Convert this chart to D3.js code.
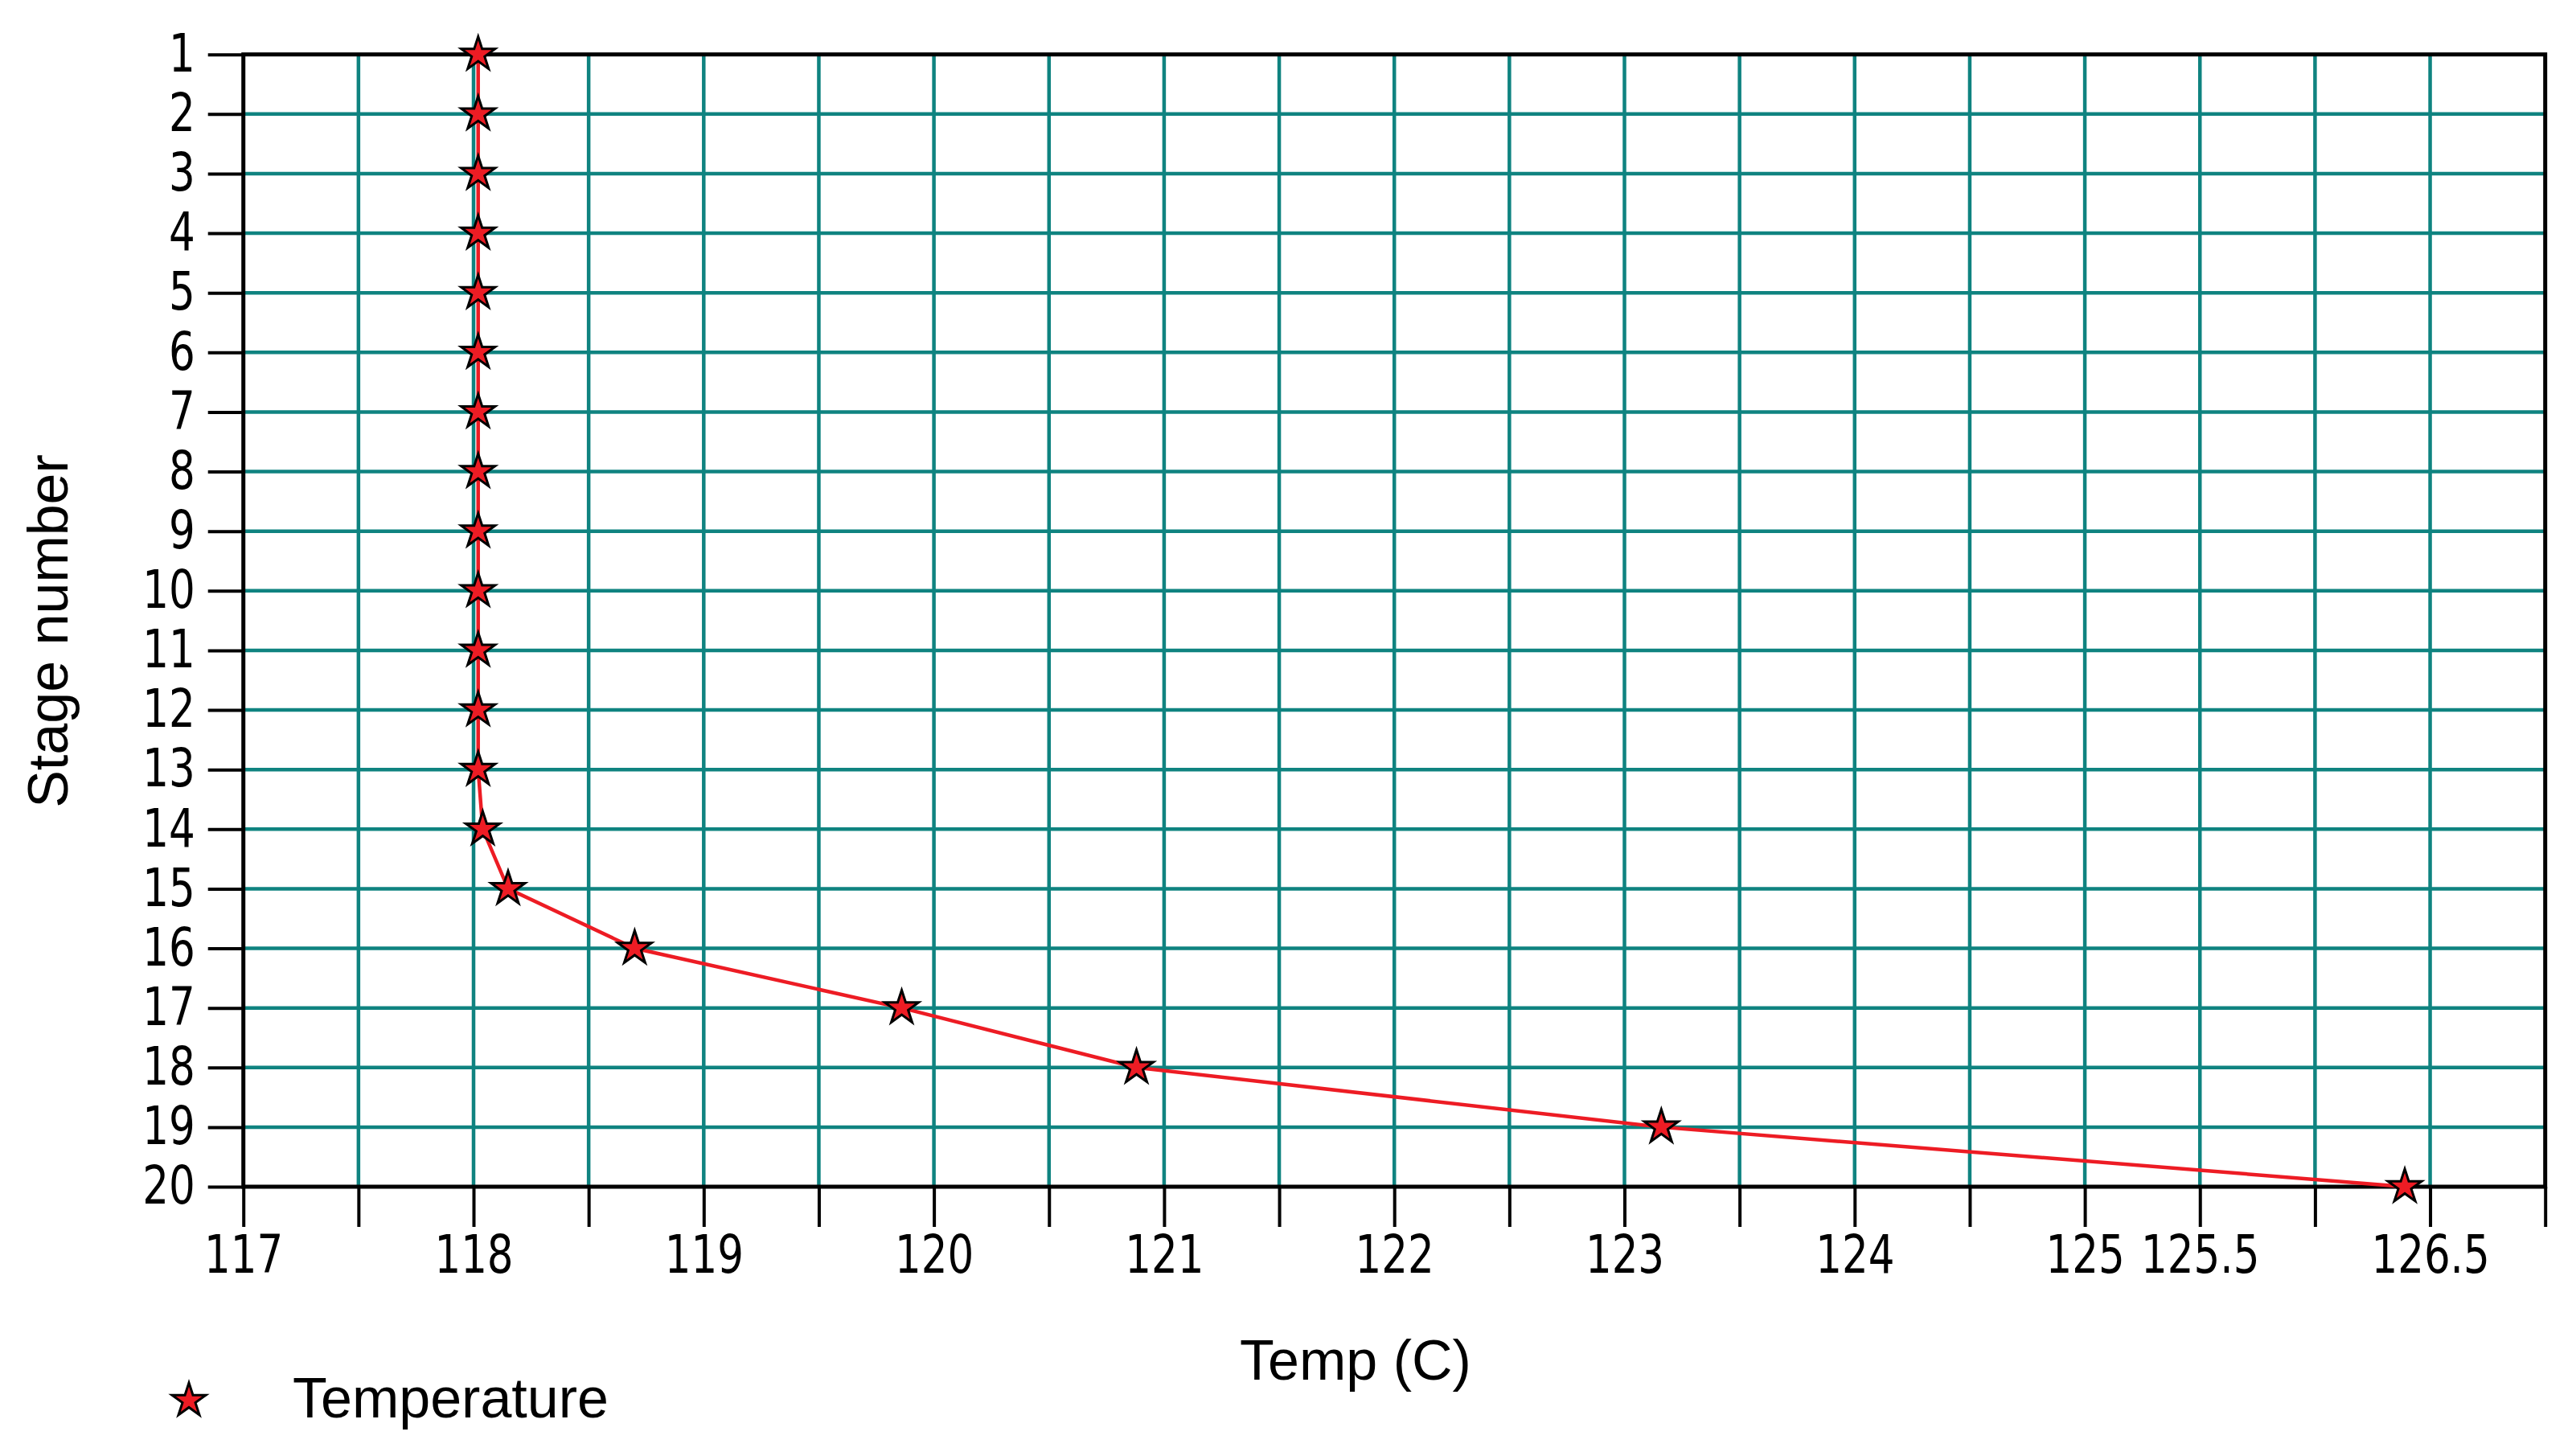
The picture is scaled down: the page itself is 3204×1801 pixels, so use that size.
<!DOCTYPE html>
<html>
<head>
<meta charset="utf-8">
<script src="https://cdn.jsdelivr.net/npm/d3@7"></script>
<style>
  body { margin: 0; background: #fff; }
  .tick text { font-family: "Liberation Sans Narrow", "Arial Narrow", "DejaVu Sans Condensed", sans-serif; font-stretch: condensed; }
  .title { font-family: "Liberation Sans", Arial, sans-serif; fill: #000; }
</style>
</head>
<body>
<svg width="3204" height="1801"></svg>
<script>
// stage numbers and temperature profile
const stages = [1, 2, 3, 4, 5, 6, 7, 8, 9, 10, 11, 12, 13, 14, 15, 16, 17, 18, 19, 20];
const temps = [118.02, 118.02, 118.02, 118.02, 118.02, 118.02, 118.02, 118.02, 118.02, 118.02,
               118.02, 118.02, 118.02, 118.04, 118.15, 118.70, 119.86, 120.88, 123.16, 126.39];

// x ticks every 0.5, but only some of them carry a label
const xTicks = d3.range(117, 127.01, 0.5);
const xTickLabels = [117, 118, 119, 120, 121, 122, 123, 124, 125, 125.5, 126.5];

const gridColor = "#0f8380";
const lineColor = "#ed1c24";

const svg = d3.select("svg");
const plotLeft = 302.7, plotRight = 3165.7, plotTop = 67.7, plotBottom = 1476;
const squeeze = 0.88; // tick labels are a narrow font

const x = d3.scaleLinear().domain([117, 127]).range([plotLeft, plotRight]);
const y = d3.scaleLinear().domain([1, 20]).range([plotTop, plotBottom]);

// grid
svg.append("g")
  .selectAll("line")
  .data(xTicks.slice(1, -1))
  .enter().append("line")
    .attr("x1", d => x(d)).attr("x2", d => x(d))
    .attr("y1", plotTop).attr("y2", plotBottom)
    .attr("stroke", gridColor)
    .attr("stroke-width", 4.5);

svg.append("g")
  .selectAll("line")
  .data(stages.slice(1, -1))
  .enter().append("line")
    .attr("x1", plotLeft).attr("x2", plotRight)
    .attr("y1", d => y(d)).attr("y2", d => y(d))
    .attr("stroke", gridColor)
    .attr("stroke-width", 4.5);

// axes
const xAxis = svg.append("g")
  .attr("transform", `translate(0,${plotBottom})`)
  .call(d3.axisBottom(x)
    .tickValues(xTicks)
    .tickSize(50)
    .tickPadding(11)
    .tickFormat(d => xTickLabels.some(v => Math.abs(v - d) < 1e-9) ? d : ""));

const yAxis = svg.append("g")
  .attr("transform", `translate(${plotLeft},0)`)
  .call(d3.axisLeft(y)
    .tickValues(stages)
    .tickSize(44)
    .tickPadding(16)
    .tickFormat(d3.format("d")));

[xAxis, yAxis].forEach(a => {
  a.select(".domain").remove();
  a.selectAll(".tick line").attr("stroke", "#000").attr("stroke-width", 4);
  a.selectAll(".tick text")
    .attr("fill", "#000")
    .attr("font-size", 65)
    .attr("transform", `scale(${squeeze},1)`);
});
yAxis.selectAll(".tick text").attr("x", -60 / squeeze);

// frame
svg.append("rect")
  .attr("x", plotLeft).attr("y", plotTop)
  .attr("width", plotRight - plotLeft).attr("height", plotBottom - plotTop)
  .attr("fill", "none")
  .attr("stroke", "#000")
  .attr("stroke-width", 5);

// temperature line
const line = d3.line()
  .x((d, i) => x(temps[i]))
  .y(d => y(d));

svg.append("path")
  .datum(stages)
  .attr("fill", "none")
  .attr("stroke", lineColor)
  .attr("stroke-width", 4.5)
  .attr("d", line);

const star = d3.symbol().type(d3.symbolStar).size(550);

svg.append("g")
  .selectAll("path")
  .data(stages)
  .enter().append("path")
    .attr("transform", (d, i) => `translate(${x(temps[i])},${y(d)})`)
    .attr("d", star)
    .attr("fill", lineColor)
    .attr("stroke", "#000")
    .attr("stroke-width", 3);

// axis titles
svg.append("text")
  .attr("class", "title")
  .attr("x", 1686).attr("y", 1716)
  .attr("text-anchor", "middle")
  .attr("font-size", 70)
  .text("Temp (C)");

svg.append("text")
  .attr("class", "title")
  .attr("transform", "translate(84,785) rotate(-90)")
  .attr("text-anchor", "middle")
  .attr("font-size", 70)
  .text("Stage number");

// legend
svg.append("path")
  .attr("transform", "translate(235,1742)")
  .attr("d", star)
  .attr("fill", lineColor)
  .attr("stroke", "#000")
  .attr("stroke-width", 3);

svg.append("text")
  .attr("class", "title")
  .attr("x", 364).attr("y", 1763)
  .attr("font-size", 70)
  .text("Temperature");
</script>
</body>
</html>
